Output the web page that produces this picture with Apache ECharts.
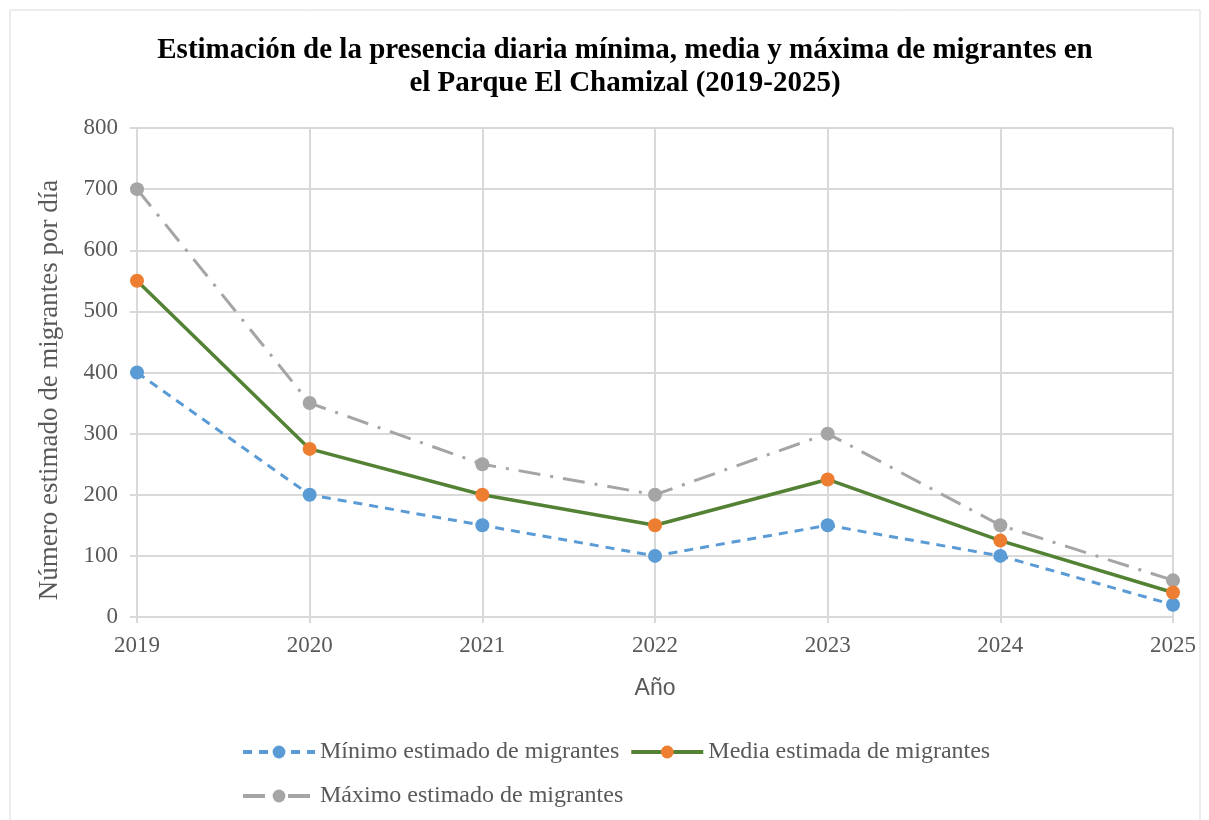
<!DOCTYPE html>
<html><head><meta charset="utf-8">
<script src="https://cdn.jsdelivr.net/npm/echarts@6/dist/echarts.min.js"></script>
<style>html,body{margin:0;padding:0;background:#fff}#c{width:1209px;height:820px}</style>
</head><body><div id="c"></div>
<script>
const years = ['2019','2020','2021','2022','2023','2024','2025'];
const minVals = [400,200,150,100,150,100,20];
const meanVals = [550,275,200,150,225,125,40];
const maxVals = [700,350,250,200,300,150,60];
const seriesNames = ['Mínimo estimado de migrantes','Media estimada de migrantes','Máximo estimado de migrantes'];
const yTicks = {min:0,max:800,interval:100};
const yTitle = 'Número estimado de migrantes por día';
const serif = '"Liberation Serif","Times New Roman",serif';
const chart = echarts.init(document.getElementById('c'));
chart.setOption({
  animation:false,
  backgroundColor:'#fff',
  graphic:[
    {type:'rect',shape:{x:10,y:10,width:1190,height:830},style:{fill:'none',stroke:'#d9d9d9',lineWidth:1}},
    {type:'text',x:50,y:390,rotation:Math.PI/2,style:{text:yTitle,font:'27px '+serif,fill:'#595959',align:'center',verticalAlign:'middle'}}
  ],
  title:{text:'Estimación de la presencia diaria mínima, media y máxima de migrantes en\nel Parque El Chamizal (2019-2025)',left:620,textAlign:'center',top:29,
    textStyle:{fontFamily:serif,fontWeight:'bold',fontSize:29,color:'#000',lineHeight:33}},
  grid:{left:137,right:36,top:128,bottom:203},
  xAxis:{type:'category',data:years,boundaryGap:false,
    name:'Año',nameLocation:'middle',nameGap:60,nameTextStyle:{fontFamily:'"Liberation Sans",Arial,sans-serif',fontSize:23,color:'#595959'},
    axisLine:{lineStyle:{color:'#d9d9d9',width:2}},
    axisTick:{show:true,length:6,lineStyle:{color:'#d9d9d9',width:2},alignWithLabel:true},
    axisLabel:{fontFamily:serif,fontSize:23,color:'#595959',margin:17},
    splitLine:{show:true,lineStyle:{color:'#d9d9d9',width:2}}},
  yAxis:{type:'value',min:yTicks.min,max:yTicks.max,interval:yTicks.interval,
    axisLine:{show:true,lineStyle:{color:'#d9d9d9',width:2}},
    axisTick:{show:true,length:7,lineStyle:{color:'#d9d9d9',width:2}},
    axisLabel:{fontFamily:serif,fontSize:23,color:'#595959',margin:19},
    splitLine:{show:true,lineStyle:{color:'#d9d9d9',width:2}}},
  legend:{left:236,top:730,width:780,itemWidth:72,itemHeight:16,itemGap:10,
    lineStyle:{width:4},
    textStyle:{fontFamily:serif,fontSize:24,color:'#595959',lineHeight:34},
    data:seriesNames},
  series:[
    {name:seriesNames[0],type:'line',data:minVals,symbol:'circle',symbolSize:14,
      lineStyle:{color:'#5b9bd5',width:3,type:[9,7]},itemStyle:{color:'#5b9bd5'},z:3},
    {name:seriesNames[1],type:'line',data:meanVals,symbol:'circle',symbolSize:14,
      lineStyle:{color:'#548235',width:3.5},itemStyle:{color:'#ed7d31'},z:4},
    {name:seriesNames[2],type:'line',data:maxVals,symbol:'circle',symbolSize:14,
      lineStyle:{color:'#a5a5a5',width:3,type:[22,10,3,10]},itemStyle:{color:'#a5a5a5'},z:2}
  ]
});
</script></body></html>
